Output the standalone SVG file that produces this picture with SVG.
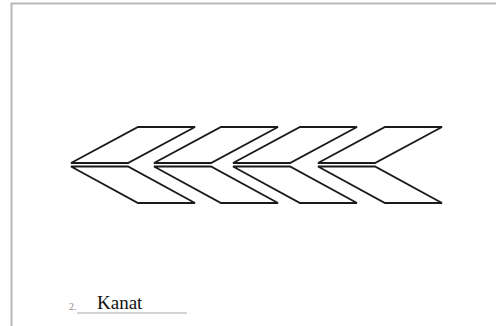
<svg xmlns="http://www.w3.org/2000/svg" width="496" height="326" viewBox="0 0 496 326">
<style>
.frame{fill:none;stroke:#b8b8b8;stroke-width:2}
.ch{fill:#fff;stroke:#1a1a1a;stroke-width:1.8;stroke-linejoin:miter}
.lbl{font-family:"Liberation Serif",serif;fill:#111}
</style>
<defs>
<g id="chev">
<polygon class="ch" points="0,163 67,127 124,127 57,163"/>
<polygon class="ch" points="0,166.5 57,166.5 124,203 67,203"/>
</g>
</defs>
<rect width="496" height="326" fill="#fff"/>
<path class="frame" d="M11.5,326 V3.5 H496"/>
<g id="chevron1"><use href="#chev" x="71"/></g>
<g id="chevron2"><use href="#chev" x="154"/></g>
<g id="chevron3"><use href="#chev" x="233"/></g>
<g id="chevron4"><use href="#chev" x="318"/></g>
<g id="label">
<text class="lbl" x="69" y="310" font-size="10" style="fill:#888">2.</text>
<line x1="77" y1="313" x2="187" y2="313" stroke="#aaa" stroke-width="1.2"/>
<text class="lbl" x="97" y="309" font-size="19">Kanat</text>
</g>
</svg>
